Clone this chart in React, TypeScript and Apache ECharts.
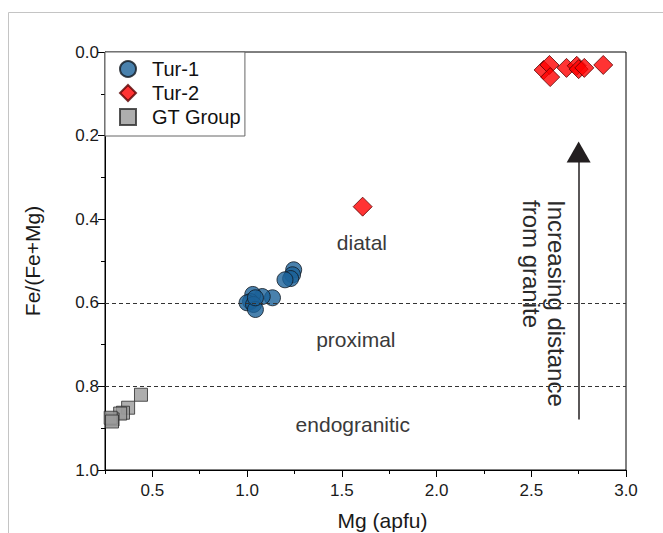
import React, { useEffect, useRef } from "react";
import * as echarts from "echarts";

const tur1: number[][] = [
  [1.246, 0.521], [1.24, 0.533], [1.23, 0.542], [1.2, 0.545], [1.134, 0.588],
  [1.08, 0.585], [1.03, 0.58], [1.018, 0.597], [1.0, 0.6], [1.034, 0.604],
  [1.044, 0.616], [1.044, 0.588],
];
const tur2: number[][] = [
  [1.61, 0.37], [2.565, 0.043], [2.596, 0.031], [2.6, 0.06], [2.686, 0.038],
  [2.74, 0.033], [2.75, 0.041], [2.78, 0.038], [2.88, 0.031],
];
const gtGroup: number[][] = [
  [0.44, 0.82], [0.372, 0.851], [0.345, 0.863], [0.33, 0.865], [0.29, 0.879],
  [0.28, 0.875], [0.287, 0.884],
];
const xMajorTicks = [0.5, 1.0, 1.5, 2.0, 2.5, 3.0];
const boundaries = [0.6, 0.8];
const zoneLabels: { name: string; coord: number[] }[] = [
  { name: "diatal", coord: [1.606, 0.456] },
  { name: "proximal", coord: [1.574, 0.688] },
  { name: "endogranitic", coord: [1.558, 0.891] },
];
const arrowFrom = [2.75, 0.879];
const arrowTo = [2.75, 0.239];

const FONT = "Arial, 'Liberation Sans', sans-serif";

export default function App() {
  const ref = useRef<HTMLDivElement>(null);
  useEffect(() => {
    if (!ref.current) return;
    const chart = echarts.init(ref.current, undefined, { renderer: "svg" });
    const baseX = {
      type: "value",
      min: 0.25,
      max: 3.0,
      position: "bottom",
    };
    chart.setOption({
      animation: false,
      backgroundColor: "#ffffff",
      textStyle: { fontFamily: FONT },
      grid: {
        left: 105,
        right: 37,
        top: 52,
        bottom: 63,
        containLabel: false,
        outerBoundsMode: "none",
        show: true,
        borderColor: "#000",
        borderWidth: 1,
        backgroundColor: "transparent",
      },
      legend: {
        left: 105,
        top: 52,
        orient: "vertical",
        backgroundColor: "#fff",
        borderColor: "#666",
        borderWidth: 1,
        borderRadius: 0,
        padding: [7, 4, 9, 14],
        itemGap: 4,
        itemWidth: 16,
        itemHeight: 16,
        itemTextGap: 10,
        textStyle: {
          fontSize: 20,
          color: "#111",
          fontFamily: FONT,
          padding: [0, 0, 0, 11],
        },
        data: ["Tur-1", "Tur-2", "GT Group"],
      },
      xAxis: [
        {
          ...baseX,
          interval: 0.25,
          axisLine: { show: true, onZero: false, lineStyle: { color: "#000", width: 1 } },
          axisTick: { show: true, inside: false, length: 4, lineStyle: { color: "#000" } },
          axisLabel: {
            customValues: xMajorTicks,
            formatter: (v: number) => v.toFixed(1),
            fontSize: 17,
            color: "#1a1a1a",
            margin: 12,
            fontFamily: FONT,
          },
          splitLine: { show: false },
          name: "Mg (apfu)",
          nameLocation: "middle",
          nameGap: 40,
          nameTextStyle: { fontSize: 21, color: "#1a1a1a", fontFamily: FONT, padding: [0, 0, 0, 34] },
        },
        {
          ...baseX,
          axisLine: { show: false, onZero: false },
          axisTick: { show: true, inside: false, length: 7, customValues: xMajorTicks, lineStyle: { color: "#000" } },
          axisLabel: { show: false },
          splitLine: { show: false },
        },
      ],
      yAxis: {
        type: "value",
        min: 0,
        max: 1,
        interval: 0.2,
        inverse: true,
        axisLine: { show: true, onZero: false, lineStyle: { color: "#000", width: 1 } },
        axisTick: { show: true, inside: false, length: 7, lineStyle: { color: "#000" } },
        minorTick: { show: true, splitNumber: 2, length: 4, lineStyle: { color: "#000" } },
        axisLabel: {
          formatter: (v: number) => v.toFixed(1),
          fontSize: 17,
          color: "#1a1a1a",
          margin: 6,
          fontFamily: FONT,
        },
        splitLine: { show: false },
        name: "Fe/(Fe+Mg)",
        nameLocation: "middle",
        nameGap: 62,
        nameTextStyle: { fontSize: 21, color: "#1a1a1a", fontFamily: FONT },
      },
      series: [
        {
          name: "GT Group",
          type: "scatter",
          symbol: "rect",
          symbolSize: 13,
          itemStyle: { color: "#9a9a9a", borderColor: "#2a2a2a", borderWidth: 1 },
          data: gtGroup,
          markLine: {
            silent: true,
            symbol: "none",
            label: { show: false },
            lineStyle: { color: "#333", width: 1, type: [4, 3] },
            data: boundaries.map((b) => ({ yAxis: b })),
          },
          markPoint: {
            symbol: "circle",
            symbolSize: 0,
            label: {
              show: true,
              formatter: "{b}",
              fontSize: 21,
              color: "#3a3a3a",
              fontFamily: FONT,
              position: "inside",
            },
            data: zoneLabels.map((z) => ({ name: z.name, coord: z.coord })),
          },
        },
        {
          name: "Tur-1",
          type: "scatter",
          symbol: "circle",
          symbolSize: 16,
          itemStyle: { color: "#1b6199", borderColor: "#101820", borderWidth: 1 },
          data: tur1,
          markLine: {
            silent: true,
            label: { show: false },
            lineStyle: { color: "#231f20", width: 1.5, type: "solid" },
            symbolSize: [24, 21],
            data: [
              [
                { coord: arrowFrom, symbol: "none" },
                { coord: arrowTo, symbol: "triangle" },
              ],
            ],
          },
        },
        {
          name: "Tur-2",
          type: "scatter",
          symbol: "diamond",
          symbolSize: 19,
          itemStyle: { color: "#ff0000", borderColor: "#5a0000", borderWidth: 1 },
          data: tur2,
        },
      ],
      graphic: [
        {
          type: "rect",
          silent: true,
          z: -10,
          shape: { x: 8.5, y: 12.5, width: 700, height: 600 },
          style: { fill: "none", stroke: "#c4c4c4", lineWidth: 1 },
        },
        {
          type: "text",
          x: 556,
          y: 200,
          rotation: -Math.PI / 2,
          style: {
            text: "Increasing distance",
            fontSize: 24,
            fontFamily: FONT,
            fill: "#2a2a2a",
            align: "left",
            verticalAlign: "middle",
          },
        },
        {
          type: "text",
          x: 531,
          y: 200,
          rotation: -Math.PI / 2,
          style: {
            text: "from granite",
            fontSize: 24,
            fontFamily: FONT,
            fill: "#2a2a2a",
            align: "left",
            verticalAlign: "middle",
          },
        },
      ],
    });
    return () => chart.dispose();
  }, []);
  return (
    <div
      ref={ref}
      style={{ position: "absolute", left: 0, top: 0, width: 663, height: 533 }}
    />
  );
}
